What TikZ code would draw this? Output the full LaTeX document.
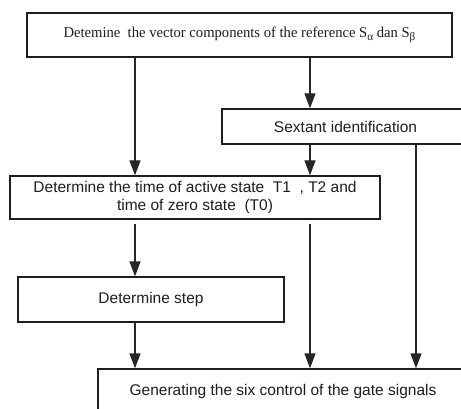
\documentclass[tikz,border=0pt]{standalone}
\usepackage{fontspec}
\setmainfont{Liberation Serif}
\setsansfont{Liberation Sans}
\usetikzlibrary{arrows.meta}
\definecolor{ink}{HTML}{1E1E1E}
\definecolor{wire}{HTML}{262626}
\tikzset{
  box/.style={draw=ink, line width=1.3pt, rectangle, inner sep=0pt, align=center, text=ink,
              font=\sffamily\fontsize{15.5}{17.5}\selectfont},
  serifbox/.style={box, font=\rmfamily\fontsize{15}{18}\selectfont},
  arr/.style={draw=wire, line width=1.3pt, -{Triangle[length=15pt,width=11pt]}},
}
\begin{document}
\begin{tikzpicture}[x=1pt,y=-1pt]
\clip (0,0) rectangle (461,409);
\fill[white] (0,0) rectangle (461,409);
% columns
\coordinate (cL) at (135,0);
\coordinate (cM) at (310,0);
\coordinate (cR) at (416,0);
% boxes
\node[serifbox, minimum width=425pt, minimum height=44pt] (top) at (239.5,35)
  {\scalebox{0.975}[1]{Detemine\ \ the vector components of the reference S\raisebox{-0.35ex}{\fontsize{11.5}{11.5}\selectfont α} dan S\raisebox{-0.35ex}{\fontsize{11.5}{11.5}\selectfont β}}};
\node[box, minimum width=247pt, minimum height=35pt] (sext) at (345.5,126.5) {Sextant identification};
\node[box, minimum width=370pt, minimum height=43pt] (det) at (195,197.5)
  {Determine the time of active state\ \ T1\ \ , T2 and\\time of zero state\ \ (T0)};
\node[box, minimum width=266pt, minimum height=45pt] (step) at (151,299.5) {Determine step};
\node[box, minimum width=370pt, minimum height=45pt] (gen) at (283,391.5)
  {Generating the six control of the gate signals};
% connectors
\draw[arr] (top.south -| cL) -- (det.north -| cL);
\draw[arr] (top.south -| cM) -- (sext.north -| cM);
\draw[arr] (sext.south -| cM) -- (det.north -| cM);
\draw[arr, shorten <=4pt] (det.south -| cL) -- (step.north -| cL);
\draw[arr] (step.south -| cL) -- (gen.north -| cL);
\draw[arr, shorten <=4pt] (det.south -| cM) -- (gen.north -| cM);
\draw[arr] (sext.south -| cR) -- (gen.north -| cR);
\end{tikzpicture}
\end{document}
